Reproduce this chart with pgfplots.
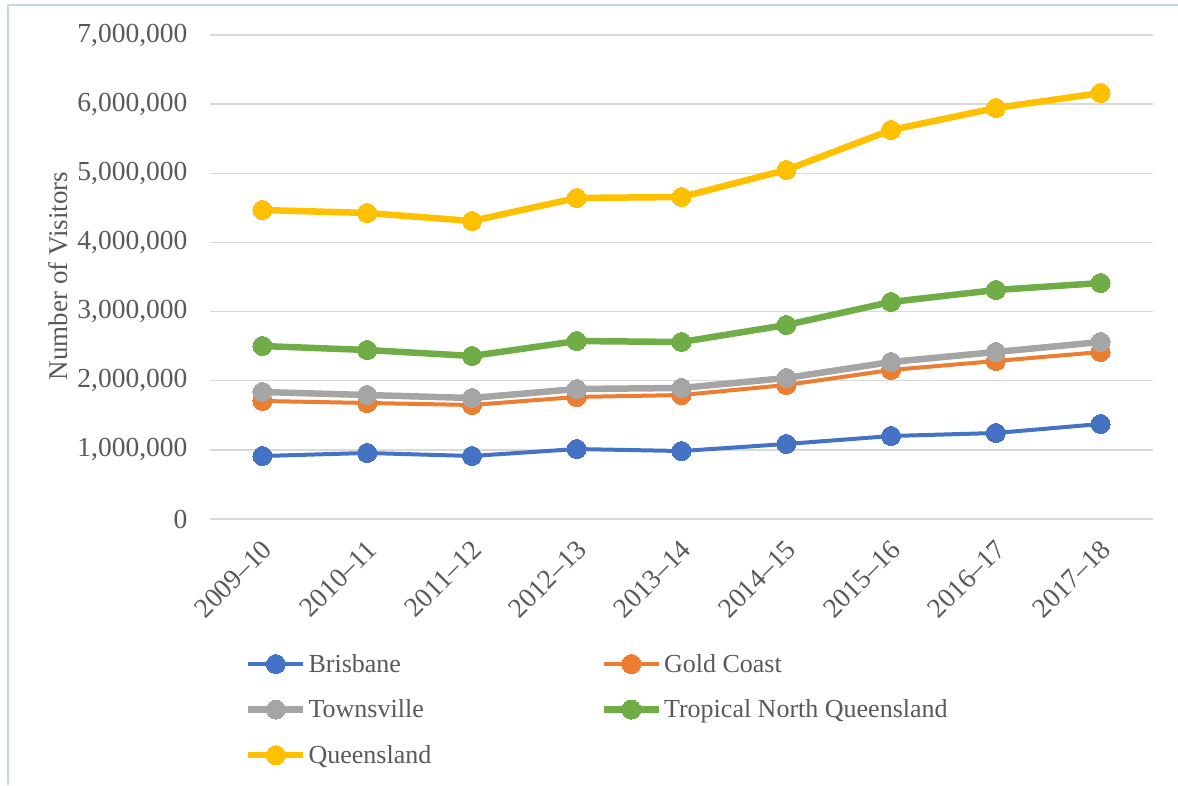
\documentclass[border=0pt]{standalone}
\usepackage{pgfplots}
\pgfplotsset{compat=1.18}
\usepackage{fontspec}
\setmainfont{Liberation Serif}
\definecolor{cBlue}{HTML}{4472C4}
\definecolor{cOrange}{HTML}{ED7D31}
\definecolor{cGray}{HTML}{A5A5A5}
\definecolor{cGreen}{HTML}{70AD47}
\definecolor{cGold}{HTML}{FFC000}
\definecolor{txt}{HTML}{595959}
\definecolor{gridc}{HTML}{D9D9D9}
\definecolor{framec}{HTML}{BDD7EE}
\begin{document}
\begin{tikzpicture}
\useasboundingbox (0pt,0pt) rectangle (1178pt,785pt);
\draw[framec,line width=1.2pt] (8pt,0pt) -- (8pt,780pt) -- (1178pt,780pt);
\node[rotate=90,text=txt,font=\fontsize{27}{31}\selectfont] at (58pt,509pt) {Number of Visitors};
\begin{axis}[
  at={(210pt,266pt)}, anchor=south west,
  scale only axis, width=943pt, height=484pt,
  xmin=-0.5, xmax=8.5, ymin=0, ymax=7000000,
  axis line style={draw=none},
  xtick={0,...,8},
  xticklabels={2009--10,2010--11,2011--12,2012--13,2013--14,2014--15,2015--16,2016--17,2017--18},
  xticklabel style={rotate=45, anchor=north east, text=txt, font=\fontsize{27.5}{32}\selectfont, xshift=-11.5pt, yshift=-9pt},
  ytick={0,1000000,...,7000000},
  scaled y ticks=false,
  yticklabel style={text=txt, font=\fontsize{27.5}{31}\selectfont, xshift=-19pt,
    /pgf/number format/.cd, fixed, 1000 sep={,}, assume math mode=true},
  major tick length=0pt,
  xmajorgrids=false,
  ymajorgrids=true, major grid style={draw=gridc, line width=1.5pt},
  legend columns=2,
  legend cell align=left,
  legend style={at={(0.037,-0.275)}, anchor=north west, draw=none, fill=none,
    inner sep=0pt, font=\fontsize{26}{30}\selectfont, text=txt,
    row sep=22pt, column sep=0pt},
  legend image code/.code={\draw[mark repeat=2,mark phase=2] plot coordinates {(0pt,0pt) (27.5pt,0pt) (55pt,0pt)};},
]
\addplot[cBlue, line width=4pt, mark=*, mark size=9.5pt, mark options={fill=cBlue, draw=cBlue, line width=0pt}] coordinates {
(0,911000) (1,955000) (2,911000) (3,1012000) (4,983000) (5,1085000) (6,1200000) (7,1244000) (8,1374000)};
\addlegendentry{\makebox[290pt][l]{Brisbane}}
\addplot[cOrange, line width=4pt, mark=*, mark size=9.5pt, mark options={fill=cOrange, draw=cOrange, line width=0pt}] coordinates {
(0,1707000) (1,1678000) (2,1649000) (3,1765000) (4,1793000) (5,1938000) (6,2155000) (7,2285000) (8,2415000)};
\addlegendentry{Gold Coast}
\addplot[cGray, line width=6.5pt, mark=*, mark size=9.5pt, mark options={fill=cGray, draw=cGray, line width=0pt}] coordinates {
(0,1837000) (1,1793000) (2,1750000) (3,1880000) (4,1895000) (5,2039000) (6,2271000) (7,2415000) (8,2560000)};
\addlegendentry{\makebox[290pt][l]{Townsville}}
\addplot[cGreen, line width=6.5pt, mark=*, mark size=9.5pt, mark options={fill=cGreen, draw=cGreen, line width=0pt}] coordinates {
(0,2502000) (1,2444000) (2,2358000) (3,2574000) (4,2560000) (5,2806000) (6,3139000) (7,3312000) (8,3413000)};
\addlegendentry{Tropical North Queensland}
\addplot[cGold, line width=6.5pt, mark=*, mark size=9.5pt, mark options={fill=cGold, draw=cGold, line width=0pt}] coordinates {
(0,4469000) (1,4426000) (2,4310000) (3,4643000) (4,4657000) (5,5048000) (6,5626000) (7,5944000) (8,6161000)};
\addlegendentry{\makebox[290pt][l]{Queensland}}
\end{axis}
\end{tikzpicture}
\end{document}
